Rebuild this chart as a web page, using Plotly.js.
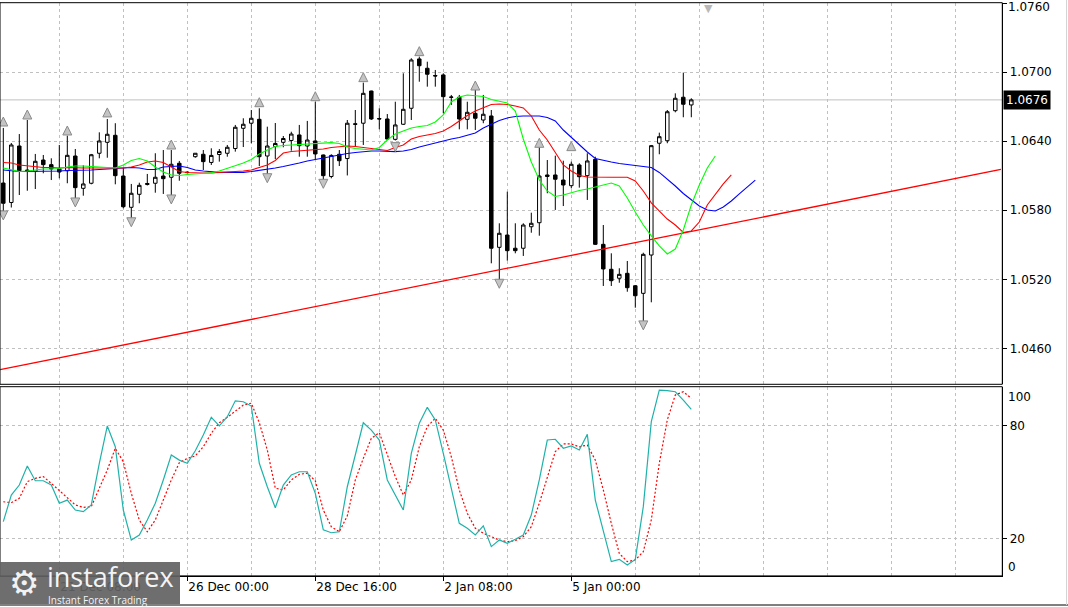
<!DOCTYPE html>
<html><head><meta charset="utf-8">
<script src="https://cdn.plot.ly/plotly-3.0.1.min.js"></script>
<style>html,body{margin:0;padding:0;background:#fff;overflow:hidden;}#chart{width:1068px;height:607px;}</style>
</head><body><div id="chart"></div>
<script>
// ---- EURUSD H4 candles (bar index 0..86) ----
const openP = [1.06037,1.05868,1.06359,1.06150,1.06139,1.06237,1.06197,1.06162,1.06144,1.06272,
1.05991,1.06035,1.06296,1.06391,1.06452,1.06098,1.05826,1.05939,1.06024,1.06035,
1.06098,1.06087,1.06209,1.06132,1.06266,1.06287,1.06216,1.06285,1.06296,1.06337,
1.06513,1.06557,1.06591,1.06272,1.06355,1.06391,1.06407,1.06455,1.06359,1.06403,
1.06281,1.06094,1.06287,1.06250,1.06552,1.06557,1.06837,1.06598,1.06594,1.06417,
1.06548,1.06687,1.07116,1.07035,1.06972,1.06977,1.06785,1.06783,1.06591,1.06643,
1.06585,1.06620,1.05478,1.05585,1.05470,1.05470,1.05657,1.05692,1.06107,1.06107,
1.06063,1.06014,1.06194,1.06101,1.06243,1.05504,1.05287,1.05209,1.05252,1.05144,
1.05078,1.05411,1.06383,1.06405,1.06666,1.06783,1.06716];
const highP = [1.06516,1.06385,1.06463,1.06585,1.06290,1.06281,1.06252,1.06368,1.06449,1.06333,
1.06191,1.06290,1.06478,1.06594,1.06557,1.06168,1.06029,1.06040,1.06116,1.06296,
1.06324,1.06324,1.06229,1.06138,1.06297,1.06324,1.06339,1.06333,1.06368,1.06542,
1.06600,1.06672,1.06687,1.06527,1.06559,1.06446,1.06483,1.06542,1.06577,1.06744,
1.06285,1.06287,1.06324,1.06585,1.06672,1.06910,1.06840,1.06687,1.06637,1.06744,
1.06991,1.07122,1.07136,1.07092,1.07020,1.06991,1.06803,1.06803,1.06744,1.06846,
1.06803,1.06672,1.05687,1.05962,1.05687,1.05687,1.05779,1.06348,1.06237,1.06275,
1.06231,1.06223,1.06209,1.06296,1.06266,1.05672,1.05426,1.05296,1.05359,1.05150,
1.05431,1.06368,1.06475,1.06672,1.06817,1.06997,1.06774];
const lowP = [1.05788,1.05824,1.05933,1.05970,1.05985,1.06122,1.06063,1.06078,1.06035,1.05896,
1.05927,1.06026,1.06252,1.06257,1.06026,1.05817,1.05730,1.05861,1.06016,1.05953,
1.05942,1.05918,1.06057,1.06122,1.06257,1.06150,1.06194,1.06223,1.06266,1.06310,
1.06350,1.06383,1.06185,1.06103,1.06246,1.06348,1.06318,1.06266,1.06266,1.06237,
1.06063,1.06078,1.06185,1.06103,1.06353,1.06368,1.06585,1.06504,1.06410,1.06407,
1.06542,1.06585,1.06918,1.06875,1.06875,1.06643,1.06716,1.06504,1.06504,1.06498,
1.06557,1.05339,1.05179,1.05362,1.05426,1.05403,1.05605,1.05579,1.05948,1.05803,
1.05837,1.05991,1.05997,1.05890,1.05498,1.05142,1.05142,1.05170,1.05092,1.04953,
1.04826,1.05000,1.06287,1.06383,1.06652,1.06609,1.06609];
const closeP = [1.05861,1.06368,1.06144,1.06137,1.06226,1.06197,1.06159,1.06133,1.06278,1.05997,
1.06029,1.06283,1.06403,1.06461,1.06101,1.05831,1.05948,1.06017,1.06033,1.06087,
1.06075,1.06200,1.06122,1.06128,1.06296,1.06223,1.06277,1.06311,1.06348,1.06522,
1.06548,1.06600,1.06266,1.06359,1.06381,1.06424,1.06463,1.06362,1.06411,1.06290,
1.06101,1.06277,1.06231,1.06557,1.06548,1.06817,1.06594,1.06594,1.06420,1.06542,
1.06678,1.07107,1.07057,1.06983,1.06968,1.06788,1.06783,1.06594,1.06652,1.06600,
1.06635,1.05470,1.05600,1.05449,1.05449,1.05672,1.05687,1.06098,1.06094,1.06070,
1.06020,1.06200,1.06092,1.06229,1.05504,1.05290,1.05188,1.05243,1.05127,1.05057,
1.05417,1.06362,1.06440,1.06657,1.06774,1.06722,1.06760];

// ---- Alligator (values per bar, drawn with forward shift) ----
const jawBlue = [1.06150,1.06142,1.06137,1.06137,1.06137,1.06137,1.06137,1.06142,1.06146,1.06146,
1.06146,1.06150,1.06155,1.06159,1.06159,1.06168,1.06172,1.06168,1.06155,1.06155,
1.06177,1.06181,1.06185,1.06172,1.06150,1.06142,1.06133,1.06130,1.06130,1.06130,
1.06130,1.06137,1.06146,1.06155,1.06168,1.06181,1.06194,1.06211,1.06229,1.06242,
1.06259,1.06272,1.06285,1.06294,1.06303,1.06311,1.06316,1.06316,1.06311,1.06310,
1.06316,1.06329,1.06350,1.06368,1.06390,1.06407,1.06420,1.06433,1.06450,1.06472,
1.06516,1.06546,1.06581,1.06603,1.06616,1.06620,1.06620,1.06620,1.06607,1.06577,
1.06498,1.06433,1.06368,1.06307,1.06250,1.06233,1.06220,1.06207,1.06198,1.06190,
1.06185,1.06172,1.06129,1.06072,1.06011,1.05946,1.05890,1.05837,1.05803,1.05794,
1.05829,1.05881,1.05942,1.06003,1.06063];
const teethRed = [1.06216,1.06211,1.06194,1.06185,1.06177,1.06172,1.06172,1.06168,1.06172,1.06168,
1.06168,1.06168,1.06168,1.06172,1.06168,1.06168,1.06177,1.06194,1.06220,1.06229,
1.06216,1.06177,1.06137,1.06129,1.06124,1.06124,1.06124,1.06129,1.06129,1.06133,
1.06142,1.06150,1.06172,1.06194,1.06233,1.06298,1.06311,1.06316,1.06320,1.06324,
1.06333,1.06346,1.06353,1.06359,1.06355,1.06346,1.06333,1.06324,1.06320,1.06346,
1.06368,1.06420,1.06442,1.06455,1.06468,1.06490,1.06529,1.06577,1.06624,1.06663,
1.06694,1.06720,1.06724,1.06720,1.06707,1.06690,1.06620,1.06498,1.06411,1.06307,
1.06194,1.06142,1.06103,1.06090,1.06087,1.06087,1.06087,1.06087,1.06087,1.06055,
1.05968,1.05864,1.05794,1.05724,1.05672,1.05607,1.05620,1.05698,1.05846,1.05942,
1.06029,1.06107];
const lipsGreen = [1.06168,1.06150,1.06137,1.06142,1.06150,1.06159,1.06159,1.06164,1.06177,1.06185,
1.06185,1.06181,1.06177,1.06177,1.06168,1.06194,1.06233,1.06250,1.06229,1.06177,
1.06133,1.06107,1.06103,1.06111,1.06116,1.06120,1.06126,1.06142,1.06164,1.06185,
1.06211,1.06242,1.06290,1.06324,1.06355,1.06364,1.06368,1.06372,1.06377,1.06381,
1.06385,1.06388,1.06381,1.06350,1.06337,1.06329,1.06324,1.06346,1.06411,1.06463,
1.06490,1.06516,1.06529,1.06537,1.06568,1.06629,1.06742,1.06785,1.06803,1.06798,
1.06790,1.06763,1.06746,1.06733,1.06663,1.06420,1.06220,1.06063,1.05968,1.05920,
1.05933,1.05955,1.05972,1.05985,1.06003,1.06020,1.06037,1.06011,1.05907,1.05785,
1.05672,1.05577,1.05490,1.05420,1.05463,1.05629,1.05846,1.06020,1.06168,1.06272];

// ---- Fractals ----
const fracUpBar = [0,3,8,13,21,32,39,45,52,59,67,71];
const fracUpPrice = [1.06611,1.06672,1.06533,1.06690,1.06411,1.06779,1.06831,1.06997,1.07223,1.06924,1.06426,1.06397];
const fracDnBar = [0,9,16,21,33,40,49,62,80];
const fracDnPrice = [1.05716,1.05829,1.05657,1.05855,1.06040,1.05991,1.06310,1.05122,1.04760];

// ---- Trend line (two anchor points: bar, price) ----
const trendBar = [-0.41, 124.7];
const trendPrice = [1.04414, 1.06155];

// ---- Stochastic ----
const stochMain = [28.9,43.1,48.4,58.6,50.7,50.7,48.4,38.7,40.4,35.1,
34.2,37.8,60.0,79.9,68.8,35.1,19.1,21.8,29.8,38.7,
51.1,64.4,61.7,60.0,66.7,75.1,84.5,79.9,84.8,93.3,
92.8,90.5,60.0,47.5,36.3,48.4,53.8,55.5,55.5,44.0,
24.5,23.0,23.5,47.5,64.4,81.6,77.7,72.4,51.1,43.1,
35.1,65.3,81.3,89.8,83.1,65.3,45.8,28.0,25.4,21.8,
26.7,15.6,19.1,17.4,19.5,21.8,32.4,51.1,72.4,72.8,
68.0,69.2,67.1,75.4,40.4,24.5,7.6,8.8,5.8,8.8,
36.9,82.2,99.0,98.7,98.1,93.6,88.7];
const stochSignal = [39.5,39.0,41.3,50.2,52.0,52.9,49.3,45.4,41.9,37.8,
36.5,36.9,46.7,56.4,68.0,60.8,44.0,29.8,23.5,29.8,
40.4,51.1,60.3,62.6,63.9,68.8,76.0,81.6,84.5,88.0,
91.0,92.0,81.6,67.1,46.7,45.8,51.1,54.1,54.7,50.7,
35.1,26.2,23.5,32.0,51.1,62.6,73.3,76.3,64.4,52.9,
43.1,51.1,68.8,79.5,84.0,77.7,63.5,45.8,33.3,25.4,
22.7,20.9,19.1,18.2,18.8,20.9,26.2,38.7,52.9,66.2,
70.3,70.3,68.8,69.7,61.7,45.8,28.0,12.0,7.6,8.5,
12.9,29.8,60.0,83.1,96.4,98.1,94.6];

// ---- Axis labels ----
const priceTicks = [1.0460,1.0520,1.0580,1.0640,1.0700,1.0760];
const topPriceLabel = 1.0760;
const timeTickBars = [7,23,39,55,71];
const timeTickText = ['21 Dec 08:00','26 Dec 00:00','28 Dec 16:00','2 Jan 08:00','5 Jan 00:00'];
const lastPrice = 1.0676;

const idx = n => Array.from({length:n},(_,i)=>i);
const W = 1068, H = 607;
const px = v => v / W, py = v => 1 - v / H;
const FONT = 'DejaVu Sans';
const GRID = '#c0c0c0';

const traces = [
 {type:'scatter',mode:'lines',x:[trendBar[0],trendBar[1]],y:trendPrice,line:{color:'#ff0000',width:1.3},xaxis:'x',yaxis:'y',hoverinfo:'skip'},
 {type:'scatter',mode:'lines',x:idx(jawBlue.length),y:jawBlue,line:{color:'#0000ff',width:1.1},xaxis:'x',yaxis:'y',hoverinfo:'skip'},
 {type:'scatter',mode:'lines',x:idx(teethRed.length),y:teethRed,line:{color:'#ff0000',width:1.1},xaxis:'x',yaxis:'y',hoverinfo:'skip'},
 {type:'scatter',mode:'lines',x:idx(lipsGreen.length),y:lipsGreen,line:{color:'#00ff00',width:1.1},xaxis:'x',yaxis:'y',hoverinfo:'skip'},
 {type:'candlestick',x:idx(openP.length),open:openP,high:highP,low:lowP,close:closeP,
  increasing:{line:{color:'#000',width:1},fillcolor:'#ffffff'},
  decreasing:{line:{color:'#000',width:1},fillcolor:'#000000'},
  whiskerwidth:0,xaxis:'x',yaxis:'y',hoverinfo:'skip'},
 {type:'scatter',mode:'markers',x:fracUpBar,y:fracUpPrice,marker:{symbol:'arrow-up',size:9,color:'#c4c4c4',line:{color:'#8a8a8a',width:1}},xaxis:'x',yaxis:'y',hoverinfo:'skip'},
 {type:'scatter',mode:'markers',x:fracDnBar,y:fracDnPrice,marker:{symbol:'arrow-down',size:9,color:'#c4c4c4',line:{color:'#8a8a8a',width:1}},xaxis:'x',yaxis:'y',hoverinfo:'skip'},
 {type:'scatter',mode:'lines',x:idx(stochSignal.length),y:stochSignal,line:{color:'#ff0000',width:1.2,dash:'2px,2px'},xaxis:'x2',yaxis:'y2',hoverinfo:'skip'},
 {type:'scatter',mode:'lines',x:idx(stochMain.length),y:stochMain,line:{color:'#20b2aa',width:1.2},xaxis:'x2',yaxis:'y2',hoverinfo:'skip'}
];

const xr = [-0.4125, 124.875];
const xdom = [0, px(1002.3)];
const layout = {
 width:W,height:H,margin:{l:0,r:0,t:0,b:0},paper_bgcolor:'#ffffff',plot_bgcolor:'#ffffff',
 showlegend:false,font:{family:FONT,size:12,color:'#000'},boxgap:0.38,
 xaxis:{domain:xdom,range:xr,anchor:'y',tickmode:'linear',tick0:7,dtick:8,showticklabels:false,ticks:'',
   showgrid:true,gridcolor:GRID,griddash:'3px,3px',gridwidth:1,zeroline:false,showline:false,rangeslider:{visible:false},fixedrange:true},
 yaxis:{domain:[py(384.3),py(2.7)],range:[1.04287,1.07605],anchor:'x',side:'right',tickmode:'array',tickvals:priceTicks,
   ticktext:priceTicks.map(v=>v===topPriceLabel?'':v.toFixed(4)),ticks:'outside',ticklen:4,tickcolor:'#000',showgrid:true,gridcolor:GRID,griddash:'3px,3px',
   zeroline:false,showline:true,linecolor:'#000',linewidth:1,tickfont:{family:FONT,size:12,color:'#000'},fixedrange:true},
 xaxis2:{domain:xdom,range:xr,anchor:'y2',tickmode:'array',tickvals:timeTickBars,ticktext:timeTickText,ticks:'outside',ticklen:4,tickcolor:'#000',
   ticklabelposition:'outside right',tickfont:{family:FONT,size:12,color:'#000'},
   showgrid:true,gridcolor:GRID,griddash:'3px,3px',
   minor:{tickmode:'linear',tick0:7,dtick:8,showgrid:true,gridcolor:GRID,griddash:'3px,3px',ticks:''},
   zeroline:false,showline:true,linecolor:'#000',linewidth:1,fixedrange:true},
 yaxis2:{domain:[py(575.9),py(386.7)],range:[0,100.8],anchor:'x2',side:'right',tickmode:'array',tickvals:[20,80],ticktext:['20','80'],
   ticks:'outside',ticklen:4,tickcolor:'#000',showgrid:true,gridcolor:GRID,griddash:'3px,3px',zeroline:false,
   showline:true,linecolor:'#000',linewidth:1,tickfont:{family:FONT,size:12,color:'#000'},fixedrange:true},
 shapes:[
   {type:'line',xref:'paper',yref:'y',x0:0,x1:px(1002.3),y0:lastPrice,y1:lastPrice,line:{color:'#c0c0c0',width:1},layer:'below'},
   {type:'rect',xref:'paper',yref:'paper',x0:0,x1:px(1002.3),y0:py(384.3),y1:py(2.7),line:{color:'#000',width:1}},
   {type:'rect',xref:'paper',yref:'paper',x0:0,x1:px(1002.3),y0:py(575.9),y1:py(386.7),line:{color:'#000',width:1}},
   {type:'line',xref:'paper',yref:'paper',x0:0,x1:1,y0:py(605),y1:py(605),line:{color:'#000',width:1}},
   {type:'line',xref:'paper',yref:'paper',x0:px(1066.5),x1:px(1066.5),y0:py(605),y1:1,line:{color:'#d4d4d4',width:1}},
   {type:'rect',xref:'paper',yref:'paper',x0:0,x1:px(180),y0:py(604),y1:py(562),line:{width:0},fillcolor:'rgba(98,98,98,0.92)',layer:'above'}
 ],
 annotations:[
   {xref:'paper',yref:'paper',x:px(1007),y:py(-1),xanchor:'left',yanchor:'top',text:topPriceLabel.toFixed(4),showarrow:false,
    font:{family:FONT,size:12,color:'#000'},borderpad:0},
   {xref:'paper',yref:'y',x:px(1003),y:lastPrice,xanchor:'left',yanchor:'middle',text:lastPrice.toFixed(4),showarrow:false,
    bgcolor:'#000',font:{family:FONT,size:12,color:'#fff'},borderpad:2},
   {xref:'paper',yref:'paper',x:px(1006),y:py(397),xanchor:'left',yanchor:'middle',text:'100',showarrow:false,font:{family:FONT,size:12,color:'#000'}},
   {xref:'paper',yref:'paper',x:px(1006),y:py(567),xanchor:'left',yanchor:'middle',text:'0',showarrow:false,font:{family:FONT,size:12,color:'#000'}},
   {xref:'paper',yref:'paper',x:px(708),y:py(0),xanchor:'center',yanchor:'top',text:'▼',showarrow:false,font:{family:FONT,size:11,color:'#b8b8b8'}},
   {xref:'paper',yref:'paper',x:px(24),y:py(583),xanchor:'center',yanchor:'middle',text:'⚙',showarrow:false,font:{family:FONT,size:34,color:'#f2f2f2'}},
   {xref:'paper',yref:'paper',x:px(46),y:py(576),xanchor:'left',yanchor:'middle',text:'instaforex',showarrow:false,font:{family:'Open Sans',size:27,color:'#f4f4f4'},borderpad:0},
   {xref:'paper',yref:'paper',x:px(47),y:py(600),xanchor:'left',yanchor:'middle',text:'Instant Forex Trading',showarrow:false,font:{family:'Open Sans',size:10,color:'#f4f4f4'},borderpad:0}
 ]
};
Plotly.newPlot('chart',traces,layout,{staticPlot:true,displayModeBar:false});
</script></body></html>
